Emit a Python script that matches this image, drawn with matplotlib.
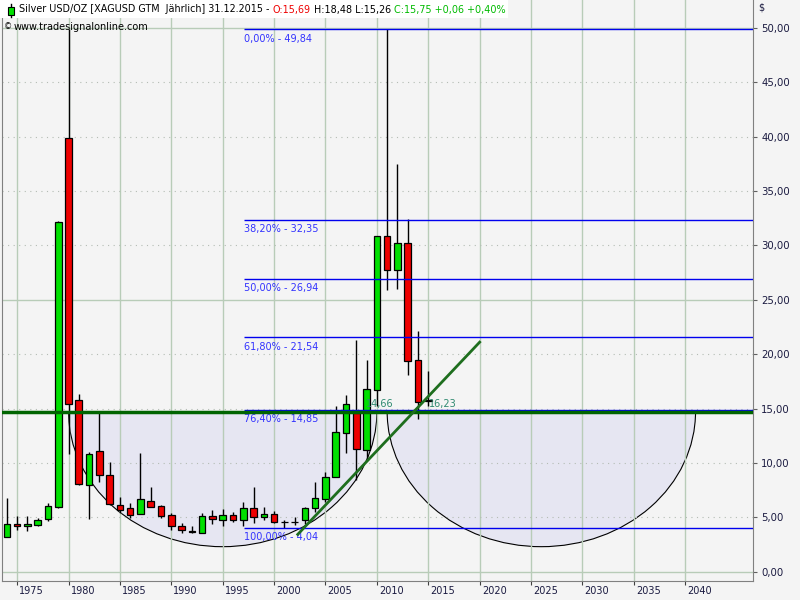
import matplotlib
matplotlib.use("Agg")
import matplotlib.pyplot as plt
from matplotlib.patches import Rectangle, Ellipse
from matplotlib.lines import Line2D
from matplotlib.transforms import blended_transform_factory

# yearly silver candles 1974 - 2015
years = list(range(1974, 2016))
opens = [3.22, 4.41, 4.16, 4.29, 4.80, 5.96, 39.90, 15.74, 8.00, 11.06,
         8.91, 6.16, 5.82, 5.33, 6.52, 6.00, 5.20, 4.16, 3.77, 3.58,
         5.08, 4.75, 5.17, 4.71, 5.88, 4.99, 5.33, 4.58, 4.55, 4.71,
         5.88, 6.70, 8.70, 12.74, 14.61, 11.21, 16.73, 30.82, 27.76, 30.24,
         19.42, 15.69]
highs = [6.77, 5.11, 5.11, 4.96, 6.28, 32.20, 49.90, 16.30, 11.00, 14.60,
         10.05, 6.86, 6.30, 10.90, 7.75, 6.16, 5.42, 4.47, 4.20, 5.42,
         5.70, 5.79, 5.50, 6.37, 7.78, 5.94, 5.54, 4.75, 5.05, 5.94,
         8.24, 9.17, 15.20, 16.20, 21.26, 19.42, 30.90, 49.84, 37.50, 32.38,
         22.09, 18.48]
lows = [3.15, 3.86, 3.74, 4.20, 4.70, 5.88, 10.85, 7.95, 4.87, 8.24,
        6.15, 5.42, 4.96, 5.33, 5.94, 4.96, 3.84, 3.52, 3.58, 3.58,
        4.40, 4.20, 4.60, 4.20, 4.47, 4.75, 4.47, 4.05, 4.30, 4.40,
        5.50, 6.40, 8.70, 10.94, 8.39, 10.32, 15.20, 25.86, 26.00, 18.04,
        14.06, 15.26]
closes = [4.39, 4.16, 4.35, 4.72, 6.02, 32.10, 15.45, 8.05, 10.85, 8.85,
          6.19, 5.70, 5.24, 6.64, 5.94, 5.15, 4.16, 3.80, 3.62, 5.08,
          4.80, 5.17, 4.78, 5.88, 4.99, 5.33, 4.60, 4.58, 4.55, 5.88,
          6.74, 8.70, 12.86, 15.46, 11.30, 16.82, 30.82, 27.74, 30.24, 19.36,
          15.59, 15.75]

# drawing tools
fib_pcts = ["0,00%", "38,20%", "50,00%", "61,80%", "76,40%", "100,00%"]
fib_levels = [49.84, 32.35, 26.94, 21.54, 14.85, 4.04]
fib_start = 1997.05
support_level = 14.71
trend_x = [2002.3, 2020.0]
trend_y = [3.43, 21.1]
bowl_centers = [1995.0, 2026.0]
bowl_halfwidth = 15.0
bowl_bottom = 2.3
value_marks = [(2008.9, "14,66"), (2015.1, "16,23")]
xticks = list(range(1975, 2041, 5))
yticks = list(range(0, 51, 5))

bg = "#f4f4f4"
fig = plt.figure(figsize=(8, 6), dpi=100, facecolor=bg)
ax = fig.add_axes([2 / 800, 19 / 600, 751 / 800, 581 / 600], facecolor=bg)
ax.set_xlim(1973.53, 2046.59)
ax.set_ylim(-0.855, 52.55)

# grid
for yr in xticks:
    ax.axvline(yr, color="#b8ccb8", lw=1, zorder=1)
for v in yticks:
    if v % 25 == 0:
        ax.axhline(v, color="#b8ccb8", lw=1, zorder=1)
    else:
        ax.axhline(v, color="#b4bcb4", lw=0.8, ls=(0, (1, 4)), zorder=1)

# bowls below support line
clip = Rectangle((1960, -10), 120, support_level + 10, transform=ax.transData)
for c in bowl_centers:
    e = Ellipse((c, support_level), 2 * bowl_halfwidth, 2 * (support_level - bowl_bottom),
                facecolor="#e6e6f2", edgecolor="black", lw=0.8, zorder=0.5)
    ax.add_patch(e)
    e.set_clip_path(clip)

# candles
colors = ["#00e000" if c >= o else "#ee0000" for o, c in zip(opens, closes)]
bottoms = [min(o, c) for o, c in zip(opens, closes)]
heights = [abs(c - o) for o, c in zip(opens, closes)]
ax.vlines(years, lows, highs, color="black", lw=1, zorder=3)
ax.bar(years, heights, bottom=bottoms, width=0.64, color=colors,
       edgecolor="black", lw=0.9, zorder=4)

# fibonacci levels
ax.hlines(fib_levels, fib_start, 2046.59, color="#0000ee", lw=1, zorder=5)
for pct, lvl in zip(fib_pcts, fib_levels):
    ax.annotate(f"{pct} - {lvl:.2f}".replace(".", ","), xy=(fib_start, lvl),
                xytext=(0.5, -3), textcoords="offset points", va="top", ha="left",
                color="#3333ff", fontsize=7, zorder=6)

ax.axhline(support_level, color="#006400", lw=2.5, zorder=6)
ax.plot(trend_x, trend_y, color="#1e6e1e", lw=2, zorder=6)
for xv, lab in value_marks:
    ax.text(xv, 15.4, lab, color="#2f8a70", fontsize=7, va="center", ha="left", zorder=7)

# axes
for s in ax.spines.values():
    s.set_color("#808080")
ax.spines["top"].set_visible(False)
ax.yaxis.tick_right()
ax.set_yticks(yticks)
ax.set_yticklabels([f"{v:.2f}".replace(".", ",") for v in yticks])
ax.tick_params(axis="y", length=3, color="#606060", labelsize=7.3,
               labelcolor="#1a1a40", pad=3)
ax.set_xticks(xticks)
ax.set_xticklabels([])
ax.tick_params(axis="x", length=3, color="#404040")
trans = blended_transform_factory(ax.transData, ax.transAxes)
for yr in xticks:
    ax.annotate(str(yr), xy=(yr, 0), xycoords=trans, xytext=(1.5, -3.5),
                textcoords="offset points", ha="left", va="top", fontsize=7,
                color="#1a1a40", annotation_clip=False)
fig.text(758 / 800, 1 - 8 / 600, "$", fontsize=7, color="#1a1a40", va="center")

# header
fig.add_artist(Rectangle((0, 1 - 18 / 600), 508 / 800, 18 / 600, transform=fig.transFigure,
                         facecolor="white", edgecolor="none", zorder=5))
fig.add_artist(Line2D([11 / 800, 11 / 800], [1 - 4 / 600, 1 - 17 / 600],
                      transform=fig.transFigure, color="black", lw=1, zorder=6))
fig.add_artist(Rectangle((8.3 / 800, 1 - 15 / 600), 5.7 / 800, 8 / 600, transform=fig.transFigure,
                         facecolor="#00e000", edgecolor="black", lw=0.8, zorder=7))
pieces = [("Silver USD/OZ [XAGUSD GTM  Jährlich] 31.12.2015 - ", "black"),
          ("O:15,69", "#ee0000"),
          (" H:18,48 L:15,26 ", "black"),
          ("C:15,75 +0,06 +0,40%", "#00bb00")]
prev = fig.text(19 / 800, 1 - 9.5 / 600, pieces[0][0], fontsize=6.9, color=pieces[0][1],
                va="center", ha="left", zorder=8)
for txt, col in pieces[1:]:
    prev = fig.add_artist(plt.Annotation(txt, xy=(1, 0.5), xycoords=prev, va="center",
                                         ha="left", fontsize=6.9, color=col, zorder=8,
                                         annotation_clip=False))
fig.text(4 / 800, 1 - 27 / 600, "©", fontsize=6, color="black", va="center", zorder=8)
fig.text(14 / 800, 1 - 27 / 600, "www.tradesignalonline.com", fontsize=7,
         color="black", va="center", zorder=8)

fig.savefig("out.png", dpi=100, facecolor=bg)
